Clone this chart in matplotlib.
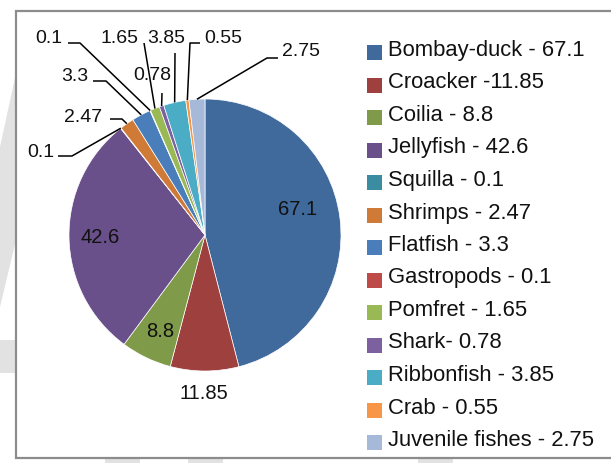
import matplotlib.pyplot as plt
from matplotlib.patches import Rectangle, Polygon
import numpy as np

plt.rcParams['font.family'] = ['Liberation Sans', 'DejaVu Sans']

# Catch composition
species = ['Bombay-duck', 'Croacker', 'Coilia', 'Jellyfish', 'Squilla', 'Shrimps',
           'Flatfish', 'Gastropods', 'Pomfret', 'Shark', 'Ribbonfish', 'Crab',
           'Juvenile fishes']
values = [67.1, 11.85, 8.8, 42.6, 0.1, 2.47, 3.3, 0.1, 1.65, 0.78, 3.85, 0.55, 2.75]
legend_labels = ['Bombay-duck - 67.1', 'Croacker -11.85', 'Coilia - 8.8',
                 'Jellyfish - 42.6', 'Squilla - 0.1', 'Shrimps - 2.47',
                 'Flatfish - 3.3', 'Gastropods - 0.1', 'Pomfret - 1.65',
                 'Shark- 0.78', 'Ribbonfish - 3.85', 'Crab - 0.55',
                 'Juvenile fishes - 2.75']
colors = ['#40699c', '#9e413e', '#7f9a48', '#69508a', '#3a8ca1', '#cf7a37',
          '#4a7ebb', '#be4b48', '#98b954', '#7d60a0', '#4bacc6', '#f79646',
          '#a7b9d9']

W, H = 611, 463
cx, cy, r = 205, 235, 136
txt = '#111111'

fig = plt.figure(figsize=(W / 100, H / 100), dpi=100)
ax = fig.add_axes([0, 0, 1, 1])

# y axis runs downward so everything below is laid out in pixel units
wedges, _ = ax.pie(values, colors=colors, startangle=-90, counterclock=True,
                   center=(cx, cy), radius=r,
                   wedgeprops=dict(edgecolor='white', linewidth=0.5, zorder=3))
ax.set_xlim(0, W)
ax.set_ylim(H, 0)
ax.set_aspect('auto')
ax.axis('off')

# faint background shapes around the frame
grey = '#e2e2e2'
ax.add_patch(Polygon([(16, 73), (16, 240), (0, 307), (0, 147)], closed=True,
                     fc=grey, ec='none', zorder=0))
ax.add_patch(Rectangle((0, 340), 16, 33, fc=grey, ec='none', zorder=0))
for x0 in (105, 188, 418):
    ax.add_patch(Rectangle((x0, 459), 35, 10, fc=grey, ec='none', zorder=0))

# chart frame
ax.add_patch(Rectangle((16, 11), W, 447, fc='white', ec='#8c8c8c', lw=1.6, zorder=1))


def edge_point(w, rad=r):
    mid = np.radians((w.theta1 + w.theta2) / 2)
    return cx + rad * np.cos(mid), cy + rad * np.sin(mid)


# labels for the large slices
inside = {0: (298, 215), 3: (100, 243), 2: (160, 337), 1: (204, 399)}
for i, (x, y) in inside.items():
    ax.text(x, y, f'{values[i]:g}', ha='center', va='baseline', fontsize=14.5,
            color=txt, zorder=5)

# callouts for the small slices: text left/baseline, leader-line bends
callouts = {
    4: ((27, 157), [(58, 156), (72, 156)]),
    5: ((64, 122), [(110, 119), (122, 119)]),
    6: ((61, 81), [(93, 81), (106, 81)]),
    7: ((35, 43), [(68, 43), (80, 43)]),
    8: ((100, 43), [(144, 43)]),
    9: ((133, 80), [(162, 93)]),
    10: ((147, 43), [(175, 53)]),
    11: ((204, 43), [(200, 43), (190, 43)]),
    12: ((282, 56), [(278, 58), (267, 58)]),
}
for i, ((tx, ty), bends) in callouts.items():
    pts = bends + [edge_point(wedges[i])]
    xs, ys = zip(*pts)
    ax.plot(xs, ys, color='black', lw=1.1, zorder=4, solid_capstyle='butt')
    ax.text(tx, ty, f'{values[i]:g}', ha='left', va='baseline', fontsize=14,
            color=txt, zorder=5)

# legend
for k, (lab, col) in enumerate(zip(legend_labels, colors)):
    base = 56 + k * 32.5
    ax.add_patch(Rectangle((367, base - 11), 15, 15, fc=col, ec='none', zorder=5))
    ax.text(388, base, lab, ha='left', va='baseline', fontsize=15.8,
            color=txt, zorder=5)

fig.savefig('out.png', dpi=100)
